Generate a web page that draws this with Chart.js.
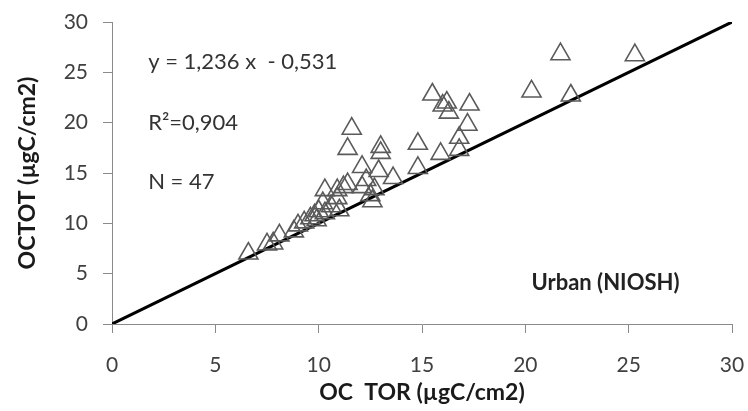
<!DOCTYPE html>
<html>
<head>
<meta charset="utf-8">
<script src="https://cdn.jsdelivr.net/npm/chart.js@4"></script>
<style>
    html, body { margin: 0; padding: 0; background: #fff; }
    #wrap { width: 748px; height: 411px; }
</style>
</head>
<body>
<div id="wrap"><canvas id="chart" width="748" height="411"></canvas></div>
<script>
// OC TOR (x) vs OCTOT (y)
const ocTor = [
    6.6, 7.5, 7.8, 8.1, 8.8, 9.0, 9.3, 9.6, 9.8, 10.0,
    10.3, 10.2, 10.6, 10.9, 10.3, 10.9, 11.2, 11.4, 11.0, 12.1,
    12.3, 12.5, 12.7, 12.1, 12.9, 13.0, 13.0, 11.4, 11.6, 13.6,
    14.8, 14.8, 15.9, 16.8, 16.8, 17.2, 15.5, 16.0, 16.2, 16.3,
    17.3, 20.3, 21.7, 22.2, 25.3, 12.6, 9.9
];
const ocTot = [
    7.0, 7.9, 8.0, 8.8, 9.2, 9.8, 10.1, 10.5, 10.8, 11.2,
    11.0, 12.0, 11.7, 12.5, 13.3, 13.3, 13.6, 13.9, 11.3, 13.6,
    14.3, 12.8, 13.4, 15.6, 15.2, 17.0, 17.6, 17.4, 19.4, 14.5,
    15.5, 17.9, 16.9, 17.3, 18.5, 19.8, 22.8, 21.7, 22.0, 21.0,
    21.8, 23.1, 26.8, 22.7, 26.7, 12.2, 10.3
];
// reference line drawn on the chart (1:1)
const lineX = [0, 30];
const lineY = [0, 30];
const annotations = ['y = 1,236 x  - 0,531', 'R²=0,904', 'N = 47'];
const siteLabel = 'Urban (NIOSH)';

const FONT = "Lato, 'Open Sans', sans-serif";
const AXIS_GREY = '#8a8a8a';

const textPlugin = {
    id: 'textLabels',
    afterDatasetsDraw(chart) {
        const { ctx, scales: { x, y } } = chart;
        ctx.save();
        ctx.textBaseline = 'middle';
        ctx.textAlign = 'left';
        ctx.fillStyle = '#333';
        ctx.font = '22px ' + FONT;
        const rows = [26.0, 20.0, 14.1];
        annotations.forEach((t, i) => {
            ctx.fillText(t, x.getPixelForValue(1.75), y.getPixelForValue(rows[i]));
        });
        ctx.font = 'bold 22px ' + FONT;
        ctx.fillStyle = '#222';
        ctx.fillText(siteLabel, x.getPixelForValue(20.3), y.getPixelForValue(4.1));
        ctx.restore();
    }
};

const axisBase = {
    type: 'linear',
    min: 0,
    max: 30,
    border: { display: true, color: AXIS_GREY, width: 1 },
    grid: {
        drawOnChartArea: false,
        drawTicks: true,
        tickLength: 9,
        color: AXIS_GREY
    },
    ticks: {
        stepSize: 5,
        color: '#404040',
        font: { family: FONT, size: 21 }
    },
    title: {
        display: true,
        color: '#1a1a1a',
        font: { family: FONT, size: 23, weight: 'bold' }
    }
};

new Chart(document.getElementById('chart'), {
    data: {
        datasets: [
            {
                type: 'scatter',
                data: ocTor.map((v, i) => ({ x: v, y: ocTot[i] })),
                pointStyle: 'triangle',
                pointRadius: 11,
                pointBorderWidth: 1.6,
                pointBorderColor: '#5a5a5a',
                pointBackgroundColor: 'rgba(0,0,0,0)'
            },
            {
                type: 'line',
                data: lineX.map((v, i) => ({ x: v, y: lineY[i] })),
                borderColor: '#000',
                borderWidth: 3,
                pointRadius: 0
            }
        ]
    },
    options: {
        responsive: false,
        animation: false,
        layout: { padding: { top: 22, right: 16, left: 0, bottom: 0 } },
        plugins: { legend: { display: false }, tooltip: { enabled: false } },
        scales: {
            x: {
                ...axisBase,
                position: 'bottom',
                ticks: { ...axisBase.ticks, padding: 20 },
                title: { ...axisBase.title, text: 'OC  TOR (µgC/cm2)', padding: { top: 0, bottom: 5 } },
                afterFit: (s) => { s.height = 87; s.paddingLeft = 0; s.paddingRight = 0; }
            },
            y: {
                ...axisBase,
                position: 'left',
                ticks: { ...axisBase.ticks, padding: 15 },
                title: { ...axisBase.title, text: 'OCTOT (µgC/cm2)', padding: { top: 14, bottom: 0 } },
                afterFit: (s) => { s.width = 112; s.paddingTop = 0; s.paddingBottom = 0; }
            }
        }
    },
    plugins: [textPlugin]
});
</script>
</body>
</html>
